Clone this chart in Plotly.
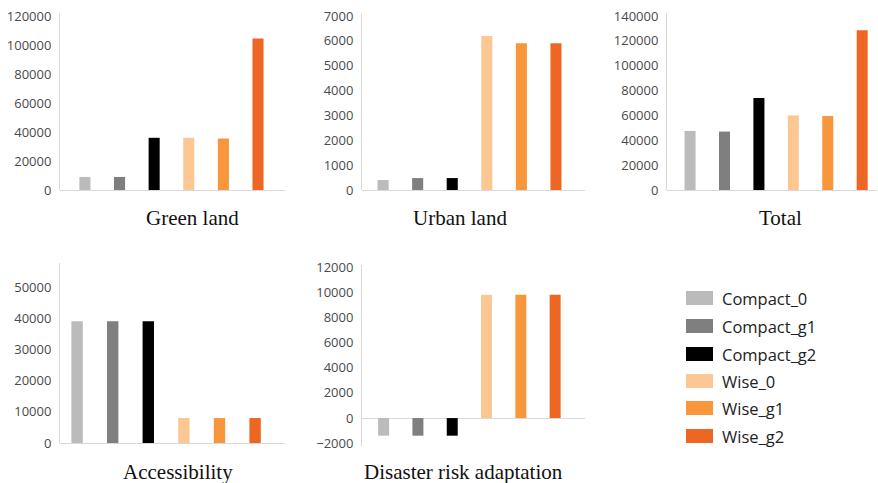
import plotly.graph_objects as go

W, H = 878, 483

series = ["Compact_0", "Compact_g1", "Compact_g2", "Wise_0", "Wise_g1", "Wise_g2"]
colors = ["#BBBBBB", "#7F7F7F", "#000000", "#FDC794", "#F7963A", "#EE6623"]

panels = ["Green land", "Urban land", "Total", "Accessibility", "Disaster risk adaptation"]
green_land = [9000, 9000, 36000, 36000, 35500, 104500]
urban_land = [400, 480, 480, 6200, 5900, 5900]
total = [47500, 47000, 74000, 60000, 59500, 128500]
accessibility = [39000, 39000, 39000, 8000, 8000, 8000]
disaster = [-1400, -1400, -1400, 9800, 9800, 9800]
values = [green_land, urban_land, total, accessibility, disaster]

# layout (pixels): x0, x1, y_bottom, y_top, y-range, x-range, dtick, bar width, title x, title y
geo = [
    dict(x0=60, x1=285, yb=190, yt=13, yr=[0, 122070], xr=[-0.72, 5.78], dt=20000, bw=0.32, tx=192, ty=218),
    dict(x0=362, x1=585, yb=190, yt=14, yr=[0, 7080], xr=[-0.61, 5.84], dt=1000, bw=0.32, tx=460, ty=218),
    dict(x0=667, x1=877, yb=190, yt=13, yr=[0, 142410], xr=[-0.67, 5.43], dt=20000, bw=0.32, tx=780, ty=218),
    dict(x0=60, x1=285, yb=443, yt=263, yr=[0, 57700], xr=[-0.48, 5.84], dt=10000, bw=0.32, tx=178, ty=472),
    dict(x0=362, x1=585, yb=446, yt=265, yr=[-2220, 12160], xr=[-0.63, 5.87], dt=2000, bw=0.32, tx=463, ty=472),
]

fig = go.Figure()
layout = {}
annotations = []
for p, (name, vals, g) in enumerate(zip(panels, values, geo)):
    idx = "" if p == 0 else str(p + 1)
    xa, ya = "x" + idx, "y" + idx
    for s, c, v in zip(series, colors, vals):
        fig.add_trace(go.Bar(x=[s], y=[v], marker=dict(color=c, line=dict(width=0)),
                             width=g["bw"], xaxis=xa, yaxis=ya, name=s,
                             legendgroup=s, showlegend=False))
    layout["xaxis" + idx] = dict(domain=[g["x0"] / W, g["x1"] / W], range=g["xr"],
                                 showticklabels=False, showgrid=False, showline=False,
                                 zeroline=False, anchor=ya, categoryorder="array",
                                 categoryarray=series, automargin=False)
    layout["yaxis" + idx] = dict(domain=[1 - g["yb"] / H, 1 - g["yt"] / H], range=g["yr"],
                                 dtick=g["dt"], tick0=0, tickformat="d", showgrid=False,
                                 showline=True, linecolor="#D9D9D9", linewidth=1,
                                 zeroline=True, zerolinecolor="#D9D9D9", zerolinewidth=1,
                                 anchor=xa, ticks="", ticklabelstandoff=5, automargin=False,
                                 tickfont=dict(family="Open Sans", size=13, color="#4a4a4a"))
    annotations.append(dict(text=name, x=g["tx"] / W, y=1 - g["ty"] / H, xref="paper",
                            yref="paper", showarrow=False, xanchor="center", yanchor="middle",
                            font=dict(family="Liberation Serif", size=21, color="#111111")))

# legend drawn as swatches + labels
shapes = []
row_y = [298, 326, 354, 381, 408, 436]
for s, c, ry in zip(series, colors, row_y):
    shapes.append(dict(type="rect", xref="paper", yref="paper", x0=686 / W, x1=713 / W,
                       y0=1 - (ry + 7) / H, y1=1 - (ry - 7) / H, fillcolor=c,
                       line=dict(width=0)))
    annotations.append(dict(text=s, x=720 / W, y=1 - ry / H, xref="paper", yref="paper",
                            showarrow=False, xanchor="left", yanchor="middle",
                            font=dict(family="Open Sans", size=16.5, color="#222222")))

fig.update_layout(width=W, height=H, margin=dict(l=0, r=0, t=0, b=0, autoexpand=False),
                  paper_bgcolor="white", plot_bgcolor="white", barmode="overlay",
                  showlegend=False, annotations=annotations, shapes=shapes, **layout)

fig.write_html("out.html", config={"displayModeBar": False},
               post_script="document.body.style.margin='0';document.body.style.overflow='hidden';")
